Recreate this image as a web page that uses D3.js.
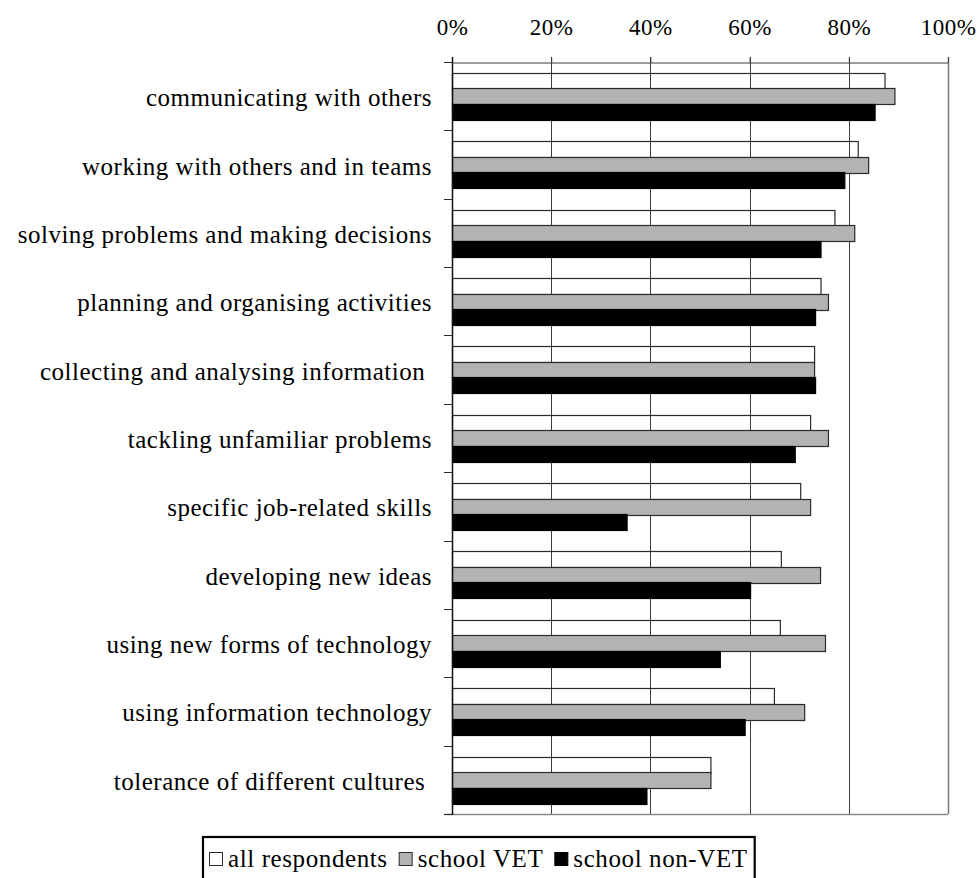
<!DOCTYPE html>
<html>
<head>
<meta charset="utf-8">
<script src="https://cdn.jsdelivr.net/npm/d3@7/dist/d3.min.js"></script>
<style>
  html, body { margin: 0; padding: 0; background: #fff; }
  svg { display: block; }
  text { font-family: "Liberation Serif", "Times New Roman", serif; fill: #000; }
</style>
</head>
<body>
<svg id="chart" width="979" height="878"></svg>
<script>
const categories = [
  "communicating with others",
  "working with others and in teams",
  "solving problems and making decisions",
  "planning and organising activities",
  "collecting and analysing information ",
  "tackling unfamiliar problems",
  "specific job-related skills",
  "developing new ideas",
  "using new forms of technology",
  "using information technology",
  "tolerance of different cultures "
];
const seriesNames = ["all respondents", "school VET", "school non-VET"];
const allRespondents = [87.2, 81.8, 77.1, 74.3, 73.0, 72.2, 70.2, 66.3, 66.1, 64.9, 52.1];
const schoolVET      = [89.2, 83.9, 81.1, 75.8, 73.0, 75.8, 72.2, 74.2, 75.2, 71.0, 52.1];
const schoolNonVET   = [85.2, 79.1, 74.3, 73.2, 73.2, 69.1, 35.2, 60.1, 54.0, 59.0, 39.2];
const tickValues = [0, 20, 40, 60, 80, 100];
const tickLabels = ["0%", "20%", "40%", "60%", "80%", "100%"];

const seriesValues = [allRespondents, schoolVET, schoolNonVET];
const seriesFill = ["none", "#b3b3b3", "#000000"];
const seriesStroke = ["#2a2a2a", "#2a2a2a", "#000000"];

const svg = d3.select("#chart");
const plot = { left: 452, right: 948, top: 62, bottom: 814 };

const x = d3.scaleLinear().domain([0, 100]).range([plot.left, plot.right]);
const y = d3.scaleBand().domain(categories).range([plot.top, plot.bottom]).paddingInner(0).paddingOuter(0);
const sub = d3.scaleBand().domain(seriesNames).range([0, y.bandwidth()]).paddingInner(0).paddingOuter(0.7);

// gridlines
svg.append("g").selectAll("line")
  .data(tickValues.filter(d => d > 0))
  .join("line")
  .attr("x1", d => Math.round(x(d)) + 0.5)
  .attr("x2", d => Math.round(x(d)) + 0.5)
  .attr("y1", plot.top - 5)
  .attr("y2", plot.bottom)
  .attr("stroke", d => d === 100 ? "#7a7a7a" : "#3c3c3c")
  .attr("stroke-width", d => d === 100 ? 1.5 : 1);

// bottom border
svg.append("line")
  .attr("x1", plot.left - 8).attr("x2", plot.right)
  .attr("y1", plot.bottom + 0.5).attr("y2", plot.bottom + 0.5)
  .attr("stroke", "#8a8a8a").attr("stroke-width", 1.5);

// bars
const rows = categories.map((c, i) => ({ c, i }));
seriesNames.forEach((s, si) => {
  svg.append("g").selectAll("rect")
    .data(rows)
    .join("rect")
    .attr("x", plot.left + 0.5)
    .attr("y", d => Math.round(y(d.c) + sub(s)) + 0.5)
    .attr("width", d => x(seriesValues[si][d.i]) - plot.left)
    .attr("height", Math.round(sub.bandwidth()))
    .attr("fill", seriesFill[si])
    .attr("stroke", seriesStroke[si])
    .attr("stroke-width", 1.2);
});

// top axis
const axTop = svg.append("g")
  .attr("transform", `translate(0,${plot.top + 0.5})`)
  .call(d3.axisTop(x).tickValues(tickValues).tickFormat((d, i) => tickLabels[i])
    .tickSize(5).tickSizeOuter(0).tickPadding(23));
axTop.select(".domain").attr("stroke", "#3a3a3a");
axTop.selectAll(".tick line").attr("stroke", "#3a3a3a");
axTop.selectAll(".tick text")
  .style("font-family", '"Liberation Serif", "Times New Roman", serif')
  .style("font-size", "23px").style("letter-spacing", "0.5px").attr("fill", "#000");
svg.append("line")
  .attr("x1", plot.left - 8).attr("x2", plot.left)
  .attr("y1", plot.top + 0.5).attr("y2", plot.top + 0.5)
  .attr("stroke", "#3a3a3a");

// left axis line and boundary ticks
const bounds = categories.map(c => y(c)).concat([plot.bottom]);
svg.append("g").selectAll("line")
  .data(bounds)
  .join("line")
  .attr("x1", plot.left - 8).attr("x2", plot.left)
  .attr("y1", d => Math.round(d) + 0.5).attr("y2", d => Math.round(d) + 0.5)
  .attr("stroke", "#2a2a2a");
svg.append("line")
  .attr("x1", plot.left + 0.5).attr("x2", plot.left + 0.5)
  .attr("y1", plot.top - 5).attr("y2", plot.bottom + 1)
  .attr("stroke", "#111").attr("stroke-width", 1.5);

// category labels
svg.append("g").selectAll("text")
  .data(categories)
  .join("text")
  .attr("x", plot.left - 20)
  .attr("y", d => y(d) + y.bandwidth() / 2 + 10)
  .attr("text-anchor", "end")
  .style("white-space", "pre")
  .style("font-size", "25px")
  .style("letter-spacing", "0.5px")
  .text(d => d);

// legend
const legend = svg.append("g");
const box = legend.append("rect")
  .attr("x", 203).attr("y", 837).attr("height", 70)
  .attr("fill", "#fff").attr("stroke", "#000").attr("stroke-width", 2.2);
let lx = 209;
const base = 867;
const sq = 13;
seriesNames.forEach((s, si) => {
  legend.append("rect")
    .attr("x", lx + 0.5).attr("y", base - sq - 2 + 0.5)
    .attr("width", sq).attr("height", sq)
    .attr("fill", si === 0 ? "#fff" : seriesFill[si])
    .attr("stroke", si === 2 ? "#000" : "#2a2a2a").attr("stroke-width", 1);
  const t = legend.append("text")
    .attr("x", lx + sq + 6).attr("y", base)
    .style("font-size", "25px").style("letter-spacing", "0.6px")
    .text(s);
  lx = lx + sq + 6 + t.node().getComputedTextLength() + 11;
});
box.attr("width", lx - 203 - 4);
</script>
</body>
</html>
